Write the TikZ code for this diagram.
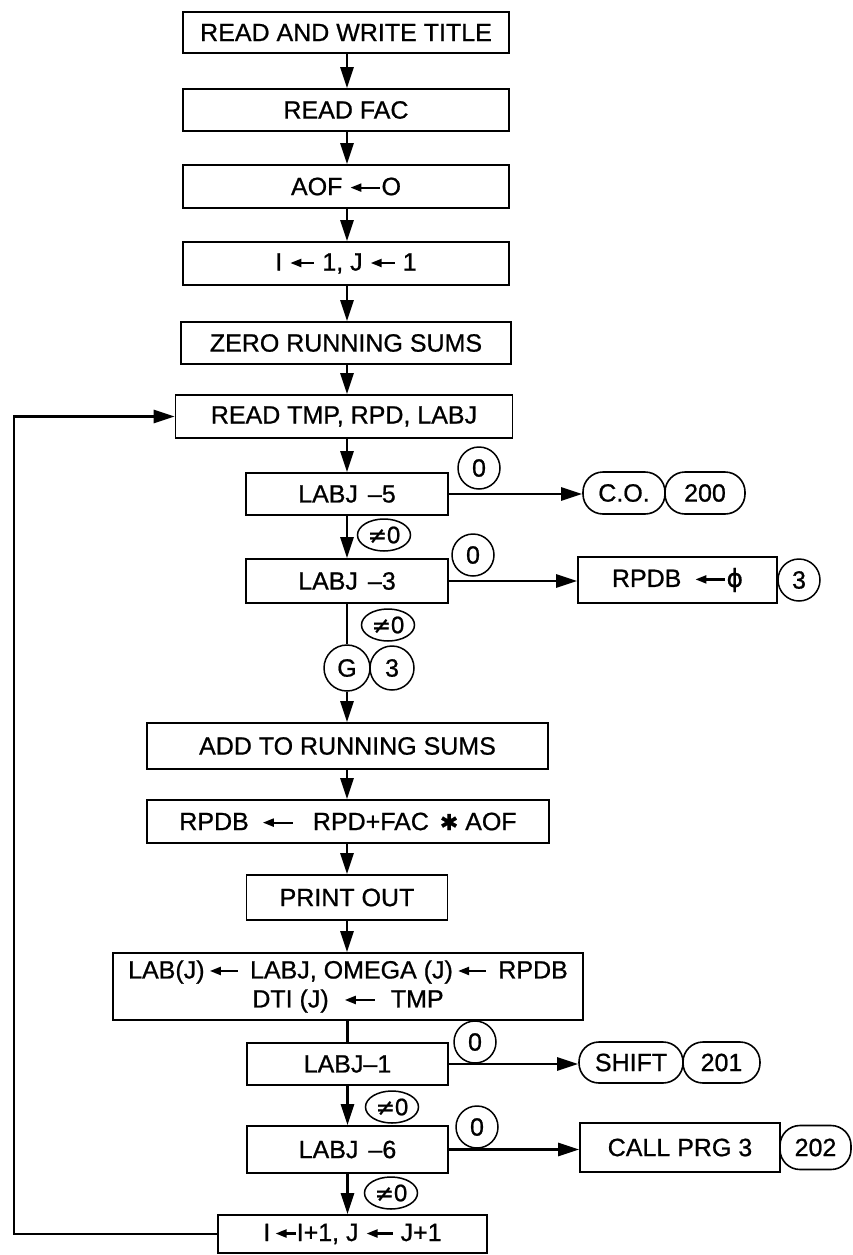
\documentclass[tikz,border=0pt]{standalone}
\usepackage{fontspec}
\setmainfont[FakeBold=0.8]{Liberation Sans}
\newfontfamily\dejavu[FakeBold=0.8]{DejaVu Sans}
\usetikzlibrary{arrows.meta,shapes.geometric}
\newcommand{\la}[1][24pt]{\tikz[baseline=0pt]\draw[line width=2.2pt,{Triangle[length=11pt,width=8pt]}-] (0pt,7.5pt) -- (#1,7.5pt);}
\begin{document}
\begin{tikzpicture}[x=1pt,y=-1pt,
  box/.style={draw, line width=1.6pt, inner sep=0pt, font=\fontsize{25}{29}\selectfont, align=center},
  term/.style={draw, line width=1.6pt, inner sep=0pt, rounded corners=20pt, minimum height=42pt, font=\fontsize{25}{29}\selectfont},
  ring/.style={draw, circle, line width=1.5pt, inner sep=0pt, minimum size=42pt, font=\fontsize{25}{29}\selectfont},
  oval/.style={draw, ellipse, line width=1.5pt, inner sep=0pt, minimum width=53pt, minimum height=32pt, font=\fontsize{24}{26}\selectfont},
  conn/.style={line width=2.8pt},
  arr/.style={conn, -{Triangle[length=21pt,width=13pt]}}]
\useasboundingbox (0,0) rectangle (853,1255);
% main column
\node[box, minimum width=326pt, minimum height=41pt] (title) at (346,32.5) {READ AND WRITE TITLE};
\node[box, minimum width=326pt, minimum height=42pt] (fac) at (346,110) {READ FAC};
\node[box, minimum width=326pt, minimum height=43pt] (aof) at (346,186.5) {AOF \la[30pt]O};
\node[box, minimum width=326pt, minimum height=43pt] (ij) at (346,263.5) {I \la{} 1, J \la{} 1};
\node[box, minimum width=330pt, minimum height=42pt] (zero) at (346,343) {ZERO RUNNING SUMS};
\node[box, minimum width=337pt, minimum height=43pt] (read) at (344,416.5) {READ TMP, RPD, LABJ};
\node[box, minimum width=202pt, minimum height=42pt] (l5) at (347,494) {LABJ\hspace{10pt}–5};
\node[box, minimum width=202pt, minimum height=44pt] (l3) at (347,581) {LABJ\hspace{10pt}–3};
\node[ring, minimum size=46pt] (g) at (347,668) {G};
\node[ring, minimum size=44pt] (g3) at (392,668) {3};
\node[box, minimum width=401pt, minimum height=46pt] (add) at (347.5,746) {ADD TO RUNNING SUMS};
\node[box, minimum width=402pt, minimum height=43pt] (rpdb) at (348,821.5) {RPDB \hspace{6pt}\la[30pt]\hspace{12pt} RPD+FAC \hspace{4pt}{\dejavu\fontsize{22}{22}\selectfont ✱} AOF};
\node[box, minimum width=201pt, minimum height=45pt] (print) at (347,897.5) {PRINT OUT};
\node[box, minimum width=470pt, minimum height=67pt] (lab) at (348,986.5) {LAB(J)\,\la[28pt]\, LABJ, OMEGA (J)\,\la[28pt]\, RPDB\\ DTI (J) \hspace{8pt}\la[30pt]\hspace{8pt} TMP};
\node[box, minimum width=201pt, minimum height=42pt] (l1) at (347.5,1064) {LABJ–1};
\node[box, minimum width=201pt, minimum height=47pt] (l6) at (347.5,1149.5) {LABJ\hspace{10pt}–6};
\node[box, minimum width=269pt, minimum height=38pt] (inc) at (352.5,1234) {I\,\la[20pt]I+1, J \la[26pt] J+1};
% branch targets
\node[term, minimum width=82pt] (co) at (624,493) {C.O.};
\node[term, minimum width=80pt] (t200) at (705,493) {200};
\node[box, minimum width=199pt, minimum height=46pt] (rz) at (677.5,580) {RPDB \hspace{6pt}\la[30pt]{\dejavu ϕ}};
\node[ring] (r3) at (799,580) {3};
\node[term, minimum width=104pt, minimum height=41pt] (shift) at (631,1062.5) {SHIFT};
\node[term, minimum width=77pt, minimum height=41pt] (t201) at (721.5,1062.5) {201};
\node[box, minimum width=200pt, minimum height=49pt] (call) at (680,1147.5) {CALL PRG 3};
\node[term, minimum width=71pt, minimum height=44pt] (t202) at (815.5,1147.5) {202};
% condition labels
\node[ring] (c1) at (479,468) {0};
\node[ring] (c2) at (473,555) {0};
\node[ring] (c3) at (475,1042) {0};
\node[ring] (c4) at (477,1127) {0};
\node[oval] (e1) at (384,535) {{\dejavu\fontsize{23}{24}\selectfont ≠}0};
\node[oval] (e2) at (388,625) {{\dejavu\fontsize{23}{24}\selectfont ≠}0};
\node[oval] (e3) at (392,1107) {{\dejavu\fontsize{23}{24}\selectfont ≠}0};
\node[oval] (e4) at (391,1193) {{\dejavu\fontsize{23}{24}\selectfont ≠}0};
\coordinate (lp) at (14,0);
% connectors
\draw[arr] (title.south -| l5) -- (fac.north -| l5);
\draw[arr] (fac.south -| l5) -- (aof.north -| l5);
\draw[arr] (aof.south -| l5) -- (ij.north -| l5);
\draw[arr] (ij.south -| l5) -- (zero.north -| l5);
\draw[arr] (zero.south -| l5) -- (read.north -| l5);
\draw[arr] (read.south -| l5) -- (l5.north);
\draw[arr] (l5.south) -- (l3.north);
\draw[conn] (l3.south) -- (g.north);
\draw[arr] (g.south) -- (add.north -| g);
\draw[arr] (add.south -| l5) -- (rpdb.north -| l5);
\draw[arr] (rpdb.south -| l5) -- (print.north -| l5);
\draw[arr] (print.south -| l5) -- (lab.north -| l5);
\draw[conn] (lab.south -| l1) -- (l1.north);
\draw[arr] (l1.south) -- (l6.north);
\draw[arr] (l6.south) -- (inc.north -| l6);
\draw[arr] (l5.east) -- (l5.east -| co.west);
\draw[arr] (l3.east) -- (l3.east -| rz.west);
\draw[arr] (l1.east) -- (l1.east -| shift.west);
\draw[arr] (l6.east) -- (l6.east -| call.west);
\draw[arr] (inc.west) -- (inc.west -| lp) |- (read.west);
\end{tikzpicture}
\end{document}
